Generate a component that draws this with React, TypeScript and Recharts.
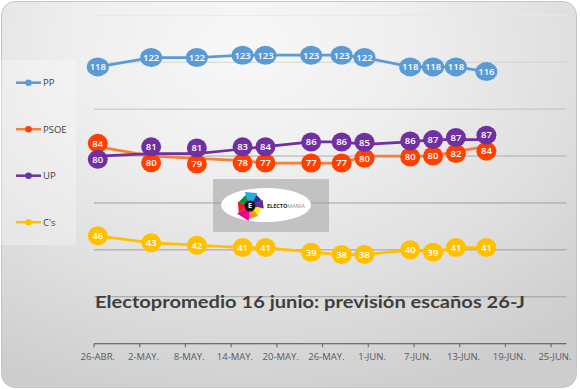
import React from 'react';
import { LineChart, Line, XAxis, YAxis, CartesianGrid, LabelList } from 'recharts';

const startDate = '2016-04-26';
const dates = [
  '2016-04-26', '2016-05-03', '2016-05-09', '2016-05-15', '2016-05-18', '2016-05-24',
  '2016-05-28', '2016-05-31', '2016-06-06', '2016-06-09', '2016-06-12', '2016-06-16',
];
const ppSeats = [118, 122, 122, 123, 123, 123, 123, 122, 118, 118, 118, 116];
const psoeSeats = [84, 80, 79, 78, 77, 77, 77, 80, 80, 80, 82, 84];
const upSeats = [80, 81, 81, 83, 84, 86, 86, 85, 86, 87, 87, 87];
const csSeats = [46, 43, 42, 41, 41, 39, 38, 38, 40, 39, 41, 41];
const tickLabels = [
  '26-ABR.', '2-MAY.', '8-MAY.', '14-MAY.', '20-MAY.', '26-MAY.',
  '1-JUN.', '7-JUN.', '13-JUN.', '19-JUN.', '25-JUN.',
];
const tickStepDays = 6;
const yTicks = [0, 20, 40, 60, 80, 100, 120, 140];
const title = 'Electopromedio 16 junio: previsión escaños 26-J';

const DAY = 86400000;
const dayOf = (d: string) => Math.round((Date.parse(d) - Date.parse(startDate)) / DAY);

const data = dates.map((d, i) => ({
  day: dayOf(d),
  pp: ppSeats[i],
  psoe: psoeSeats[i],
  up: upSeats[i],
  cs: csSeats[i],
}));
const tickValues = tickLabels.map((_, i) => i * tickStepDays);

const series = [
  { key: 'pp', name: 'PP', line: '#5B9BD5', fill: '#5B9BD5' },
  { key: 'psoe', name: 'PSOE', line: '#F4813B', fill: '#FF4000' },
  { key: 'up', name: 'UP', line: '#7030A0', fill: '#7030A0' },
  { key: 'cs', name: "C's", line: '#FFC000', fill: '#FFC000' },
];

const W = 580;
const H = 389;
const margin = { top: 15.3, right: 13.6, left: 94, bottom: 15.3 };
const xAxisH = 30;
const yDomain: [number, number] = [0, 140];
const xDomain: [number, number] = [-0.5, 61.5];
const plotW = W - margin.left - margin.right;
const plotH = H - margin.top - margin.bottom - xAxisH;
const pxPerSeat = plotH / (yDomain[1] - yDomain[0]);
const halfDay = plotW / (xDomain[1] - xDomain[0]) / 2;
const FONT = "'Open Sans', 'DejaVu Sans', sans-serif";

// push apart PSOE / UP labels that would sit on top of each other
const minSep = 16;
const labelShift = (key: string, i: number) => {
  if (key !== 'psoe' && key !== 'up') return 0;
  const diff = upSeats[i] - psoeSeats[i];
  const gap = Math.abs(diff) * pxPerSeat;
  if (gap >= minSep) return 0;
  const d = (minSep - gap) / 2;
  const upAbove = diff >= 0;
  if (key === 'up') return upAbove ? -d : d;
  return upAbove ? d : -d;
};

const makeLabel = (fill: string, key: string) => (props: any) => {
  const { x, y, value, index } = props;
  if (x == null || y == null) return null;
  const s = String(value);
  const rx = s.length > 2 ? 11 : 10;
  const cy = y + labelShift(key, index);
  return (
    <g>
      <ellipse cx={x} cy={cy} rx={rx} ry={9.5} fill={fill} />
      <text x={x} y={cy} dy="0.35em" textAnchor="middle" fill="#ffffff" fontSize={9.5} fontFamily={FONT} fontWeight={600}>
        {s}
      </text>
    </g>
  );
};

const XTick = (props: any) => {
  const { x, y, payload } = props;
  const idx = tickValues.indexOf(payload.value);
  const label = idx >= 0 ? tickLabels[idx] : '';
  return (
    <g>
      <line x1={x - halfDay} x2={x - halfDay} y1={y - 3.5} y2={y} stroke="#6f6f6f" strokeWidth={1.2} />
      <text x={x} y={y + 13} textAnchor="middle" fill="#595959" fontSize={9.5} fontFamily={FONT}>
        {label}
      </text>
    </g>
  );
};

const gridLine = (p: any) => {
  const t = Math.min(1, Math.max(0, (p.y1 - 15) / 170));
  const g = Math.round(232 - t * (232 - 158));
  return (
    <line key={p.key ?? `g-${p.y1}`} x1={p.x1} y1={p.y1} x2={p.x2} y2={p.y2} stroke={`rgb(${g},${g},${g})`} strokeWidth={1} />
  );
};

const petals = [
  { c: '#29ABE2', a0: -110, a1: -60, r: 15 },
  { c: '#2E3192', a0: -60, a1: -25, r: 13 },
  { c: '#662D91', a0: -25, a1: 10, r: 14 },
  { c: '#FCEE21', a0: 10, a1: 50, r: 12 },
  { c: '#F7931E', a0: 50, a1: 95, r: 13 },
  { c: '#EC008C', a0: 95, a1: 150, r: 15 },
  { c: '#ED1C24', a0: 150, a1: 200, r: 13 },
  { c: '#009245', a0: 200, a1: 250, r: 12 },
];

const wedge = (cx: number, cy: number, r: number, a0: number, a1: number) => {
  const p = (a: number) => [cx + r * Math.cos((a * Math.PI) / 180), cy + r * Math.sin((a * Math.PI) / 180)];
  const [x0, y0] = p(a0);
  const [x1, y1] = p(a1);
  return `M${cx},${cy} L${x0},${y0} L${x1},${y1} Z`;
};

export default function App() {
  return (
    <div style={{ position: 'fixed', left: 0, top: 0, width: W, height: H, background: '#ffffff', overflow: 'hidden' }}>
      <div
        style={{
          position: 'absolute',
          left: 1,
          top: 1,
          width: 574,
          height: 385,
          borderRadius: 14,
          border: '1px solid #c4c4c4',
          background:
            'radial-gradient(ellipse 85% 95% at 42% 12%, #f8f8f8 0%, #eeeeee 35%, #dedede 70%, #cdcdcd 100%)',
        }}
      />
      <svg width={W} height={H} style={{ position: 'absolute', left: 0, top: 0 }}>
        <rect x={1} y={60} width={75} height={185} fill="rgba(255,255,255,0.28)" />
        <rect x={213} y={179} width={116} height={53} fill="#c2c2c2" />
      </svg>
      <div style={{ position: 'absolute', left: 0, top: 0 }}>
        <LineChart width={W} height={H} data={data} margin={margin}>
          <CartesianGrid vertical={false} horizontal={gridLine as any} />
          <YAxis hide type="number" domain={yDomain} ticks={yTicks} />
          <XAxis
            dataKey="day"
            type="number"
            domain={xDomain}
            ticks={tickValues}
            interval={0}
            height={xAxisH}
            tickLine={false}
            tickSize={3.5}
            tickMargin={0}
            axisLine={{ stroke: '#6f6f6f', strokeWidth: 1.3 }}
            tick={<XTick />}
            allowDataOverflow
          />
          {series.map((s) => (
            <Line
              key={s.key}
              dataKey={s.key}
              name={s.name}
              type="linear"
              stroke={s.line}
              strokeWidth={2.75}
              dot={false}
              activeDot={false}
              isAnimationActive={false}
            >
              <LabelList dataKey={s.key} content={makeLabel(s.fill, s.key)} />
            </Line>
          ))}
        </LineChart>
      </div>
      <svg width={W} height={H} style={{ position: 'absolute', left: 0, top: 0, pointerEvents: 'none' }}>
        {series.map((s, i) => {
          const y = 82.7 + i * 46.5;
          return (
            <g key={s.key}>
              <line x1={16} x2={41} y1={y} y2={y} stroke={s.line} strokeWidth={2.5} />
              <circle cx={28.5} cy={y} r={3.3} fill={s.fill} />
              <text x={43} y={y} dy="0.35em" fontSize={9.5} fontFamily={FONT} fill="#404040">
                {s.name}
              </text>
            </g>
          );
        })}
        <ellipse cx={266} cy={205} rx={45} ry={17} fill="#ffffff" />
        {petals.map((p, i) => (
          <path key={i} d={wedge(250, 206, p.r, p.a0, p.a1)} fill={p.c} />
        ))}
        <circle cx={250} cy={206} r={5.5} fill="#111111" />
        <text x={250} y={206} dy="0.35em" textAnchor="middle" fontSize={7} fontWeight={700} fill="#ffffff" fontFamily={FONT}>
          E
        </text>
        <text x={267} y={208} fontSize={5.5} fontFamily={FONT} fontWeight={700} fill="#231f20">
          ELECTO<tspan fill="#8a8a8a" fontWeight={400}>MANIA</tspan>
        </text>
        <text
          x={310}
          y={308}
          textAnchor="middle"
          fontSize={17}
          fontWeight={700}
          fontFamily="Lato, 'Open Sans', sans-serif"
          fill="#3f3f3f"
          textLength={430}
          lengthAdjust="spacingAndGlyphs"
        >
          {title}
        </text>
      </svg>
    </div>
  );
}
